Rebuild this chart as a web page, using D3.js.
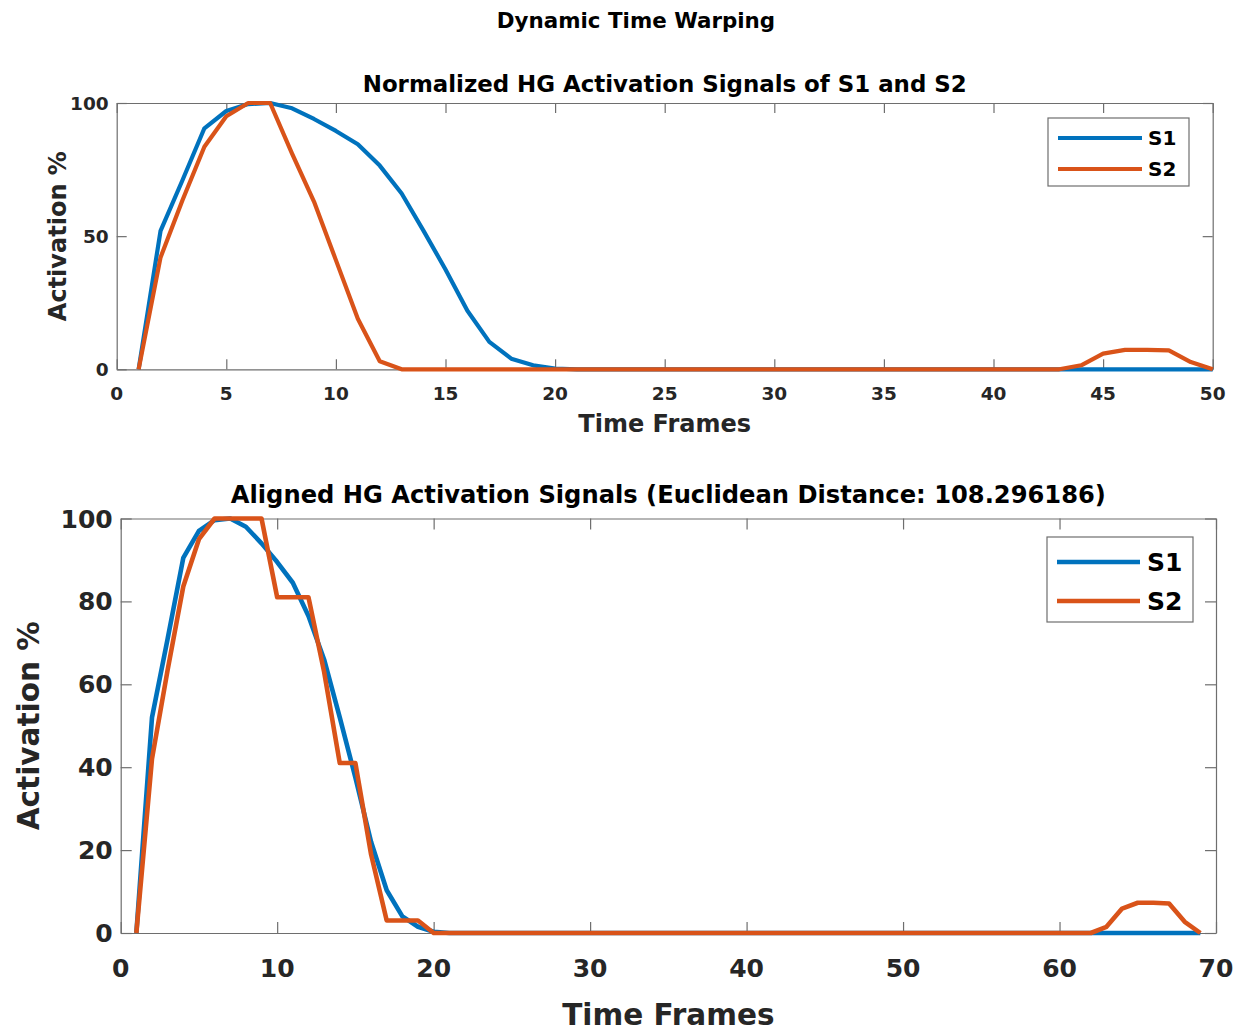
<!DOCTYPE html>
<html>
<head>
<meta charset="utf-8">
<script src="https://cdn.jsdelivr.net/npm/d3@7"></script>
<style>
  html, body { margin: 0; padding: 0; background: #fff; }
  svg { display: block; font-family: "DejaVu Sans", Verdana, sans-serif; }
</style>
</head>
<body>
<svg id="chart" width="1251" height="1034"></svg>
<script>
// ---- data ----
const s1 = [0, 52, 71, 90.5, 97, 99.6, 100, 98, 94, 89.5, 84.5, 76.5, 66, 52, 37.5, 22, 10.3, 4, 1.5, 0.3,
  0, 0, 0, 0, 0, 0, 0, 0, 0, 0, 0, 0, 0, 0, 0, 0, 0, 0, 0, 0, 0, 0, 0, 0, 0, 0, 0, 0, 0, 0];
const s2 = [0, 42, 63.5, 83.6, 95, 100, 100, 81, 63, 41, 19, 3,
  0, 0, 0, 0, 0, 0, 0, 0, 0, 0, 0, 0, 0, 0, 0, 0, 0, 0, 0, 0, 0, 0, 0, 0, 0, 0, 0, 0, 0, 0, 0,
  1.5, 5.9, 7.3, 7.3, 7.1, 2.7, 0];
const s1Aligned = [0, 52, 71, 90.5, 97, 99.6, 100, 98, 94, 89.5, 84.5, 76.5, 66, 52, 37.5, 22, 10.3, 4, 1.5, 0.3,
  0, 0, 0, 0, 0, 0, 0, 0, 0, 0, 0, 0, 0, 0, 0, 0, 0, 0, 0, 0, 0, 0, 0, 0, 0, 0, 0, 0, 0, 0,
  0, 0, 0, 0, 0, 0, 0, 0, 0, 0, 0, 0, 0, 0, 0, 0, 0, 0, 0];
const s2Aligned = [0, 42, 63.5, 83.6, 95, 100, 100, 100, 100, 81, 81, 81, 63, 41, 41, 19, 3, 3, 3,
  0, 0, 0, 0, 0, 0, 0, 0, 0, 0, 0, 0, 0, 0, 0, 0, 0, 0, 0, 0, 0, 0, 0, 0, 0, 0, 0, 0, 0, 0, 0, 0,
  0, 0, 0, 0, 0, 0, 0, 0, 0, 0, 0,
  1.5, 5.9, 7.3, 7.3, 7.1, 2.7, 0];
const seriesNames = ["S1", "S2"];
const topXTicks = [0, 5, 10, 15, 20, 25, 30, 35, 40, 45, 50];
const topYTicks = [0, 50, 100];
const botXTicks = [0, 10, 20, 30, 40, 50, 60, 70];
const botYTicks = [0, 20, 40, 60, 80, 100];
const suptitle = "Dynamic Time Warping";
const topTitle = "Normalized HG Activation Signals of S1 and S2";
const botTitle = "Aligned HG Activation Signals (Euclidean Distance: 108.296186)";
const xLabel = "Time Frames";
const yLabel = "Activation %";

const colors = ["#0072BD", "#D95319"];
const axisColor = "#6e6e6e";
const textColor = "#262626";

const svg = d3.select("#chart");

svg.append("text")
  .attr("x", 636).attr("y", 28)
  .attr("text-anchor", "middle")
  .attr("font-size", 21.4).attr("font-weight", "bold").attr("fill", "#000")
  .text(suptitle);

function panel(cfg) {
  const { left, right, top, bottom, xDomain, xTicks, yTicks, data, title, tickFont, labelFont,
          titleFont, titleY, xTickY, xLabelY, yLabelX, legend, tickLen, lineW } = cfg;
  const x = d3.scaleLinear().domain(xDomain).range([left, right]);
  const y = d3.scaleLinear().domain([0, 100]).range([bottom, top]);
  const g = svg.append("g");

  g.append("rect").attr("x", left).attr("y", top).attr("width", right - left).attr("height", bottom - top)
    .attr("fill", "#fff");

  const ax = g.append("g").attr("transform", `translate(0,${bottom})`)
    .call(d3.axisBottom(x).tickValues(xTicks).tickSizeInner(-tickLen).tickSizeOuter(0).tickFormat(""));
  const axT = g.append("g").attr("transform", `translate(0,${top})`)
    .call(d3.axisTop(x).tickValues(xTicks).tickSizeInner(-tickLen).tickSizeOuter(0).tickFormat(""));
  const ay = g.append("g").attr("transform", `translate(${left},0)`)
    .call(d3.axisLeft(y).tickValues(yTicks).tickSizeInner(-tickLen).tickSizeOuter(0).tickFormat(""));
  const ayR = g.append("g").attr("transform", `translate(${right},0)`)
    .call(d3.axisRight(y).tickValues(yTicks).tickSizeInner(-tickLen).tickSizeOuter(0).tickFormat(""));
  [ax, axT, ay, ayR].forEach(a => {
    a.selectAll("path.domain").attr("stroke", axisColor).attr("stroke-width", 1.2);
    a.selectAll("line").attr("stroke", axisColor).attr("stroke-width", 1.2);
  });

  g.selectAll(".xtl").data(xTicks).enter().append("text")
    .attr("x", d => x(d)).attr("y", xTickY)
    .attr("text-anchor", "middle").attr("font-size", tickFont).attr("font-weight", "bold")
    .attr("fill", textColor).text(d => d);
  g.selectAll(".ytl").data(yTicks).enter().append("text")
    .attr("x", left - 8).attr("y", d => y(d)).attr("dy", "0.36em")
    .attr("text-anchor", "end").attr("font-size", tickFont).attr("font-weight", "bold")
    .attr("fill", textColor).text(d => d);

  g.append("text").attr("x", (left + right) / 2).attr("y", xLabelY)
    .attr("text-anchor", "middle").attr("font-size", labelFont).attr("font-weight", "bold")
    .attr("fill", textColor).text(xLabel);
  g.append("text")
    .attr("transform", `translate(${yLabelX},${(top + bottom) / 2}) rotate(-90)`)
    .attr("text-anchor", "middle").attr("font-size", labelFont).attr("font-weight", "bold")
    .attr("fill", textColor).text(yLabel);

  g.append("text").attr("x", (left + right) / 2).attr("y", titleY)
    .attr("text-anchor", "middle").attr("font-size", titleFont).attr("font-weight", "bold")
    .attr("fill", "#000").text(title);

  const line = d3.line().x((d, i) => x(i + 1)).y(d => y(d));
  data.forEach((arr, k) => {
    g.append("path").datum(arr)
      .attr("d", line)
      .attr("fill", "none").attr("stroke", colors[k]).attr("stroke-width", lineW)
      .attr("stroke-linejoin", "round").attr("stroke-linecap", "butt");
  });

  const L = legend;
  g.append("rect").attr("x", L.x).attr("y", L.y).attr("width", L.w).attr("height", L.h)
    .attr("fill", "#fff").attr("stroke", axisColor).attr("stroke-width", 1.2);
  seriesNames.forEach((name, k) => {
    const yy = L.y + L.rowY[k];
    g.append("line").attr("x1", L.x + L.lx1).attr("x2", L.x + L.lx2).attr("y1", yy).attr("y2", yy)
      .attr("stroke", colors[k]).attr("stroke-width", lineW);
    g.append("text").attr("x", L.x + L.tx).attr("y", yy).attr("dy", "0.36em")
      .attr("font-size", L.font).attr("font-weight", "bold").attr("fill", "#000").text(name);
  });
}

panel({
  left: 116.7, right: 1212.7, top: 103, bottom: 369.3,
  xDomain: [0, 50], xTicks: topXTicks, yTicks: topYTicks,
  data: [s1, s2], title: topTitle,
  tickFont: 18.5, labelFont: 24, titleFont: 22.9, titleY: 92, xTickY: 400, xLabelY: 432, yLabelX: 66,
  tickLen: 10, lineW: 4.2,
  legend: { x: 1048, y: 118, w: 141, h: 68, rowY: [20, 51], lx1: 10, lx2: 94, tx: 100, font: 20 }
});

panel({
  left: 120.7, right: 1216, top: 518.5, bottom: 933,
  xDomain: [0, 70], xTicks: botXTicks, yTicks: botYTicks,
  data: [s1Aligned, s2Aligned], title: botTitle,
  tickFont: 25, labelFont: 29.5, titleFont: 24.2, titleY: 503, xTickY: 977, xLabelY: 1025, yLabelX: 39,
  tickLen: 11, lineW: 4.6,
  legend: { x: 1047, y: 537, w: 146, h: 85, rowY: [25, 64], lx1: 10, lx2: 93, tx: 100, font: 25 }
});
</script>
</body>
</html>
